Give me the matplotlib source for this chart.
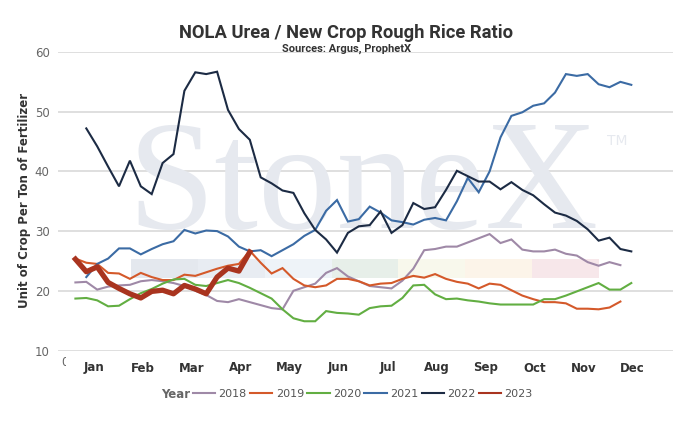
import numpy as np
import matplotlib
matplotlib.use("Agg")
import matplotlib.pyplot as plt
from matplotlib.patches import Rectangle
from matplotlib.transforms import blended_transform_factory

# ---------------- data ----------------
years = ["2018", "2019", "2020", "2021", "2022", "2023"]
start_week = {"2018": 1, "2019": 1, "2020": 1, "2021": 2, "2022": 2, "2023": 1}

v2018 = [21.4, 21.5, 20.2, 20.7, 20.9, 21.0, 21.6, 21.8, 21.6, 21.3, 20.8, 20.0, 19.3,
         18.3, 18.1, 18.6, 18.1, 17.6, 17.1, 16.9, 20.0, 20.6, 21.2, 23.0, 23.8, 22.4,
         21.6, 20.8, 20.6, 20.4, 21.7, 23.7, 26.8, 27.0, 27.4, 27.4, 28.1, 28.8, 29.5,
         28.0, 28.6, 26.9, 26.6, 26.6, 26.9, 26.2, 25.9, 24.8, 24.2, 24.8, 24.3]
v2019 = [25.4, 24.7, 24.5, 23.0, 22.9, 22.0, 23.0, 22.3, 21.8, 21.8, 22.7, 22.5, 23.1,
         23.7, 24.2, 24.5, 26.7, 24.7, 22.9, 23.8, 22.0, 20.9, 20.6, 20.9, 22.0, 22.0,
         21.6, 20.9, 21.2, 21.3, 22.0, 22.5, 22.2, 22.8, 22.0, 21.5, 21.2, 20.4, 21.2,
         21.0, 20.1, 19.2, 18.6, 18.1, 18.1, 17.9, 17.0, 17.0, 16.9, 17.2, 18.2]
v2020 = [18.7, 18.8, 18.4, 17.4, 17.5, 18.6, 19.6, 20.3, 21.2, 21.9, 22.0, 21.0, 20.8,
         21.3, 21.8, 21.3, 20.5, 19.6, 18.7, 16.9, 15.4, 14.9, 14.9, 16.6, 16.3, 16.2,
         16.0, 17.1, 17.4, 17.5, 18.8, 20.9, 21.0, 19.4, 18.6, 18.7, 18.4, 18.2, 17.9,
         17.7, 17.7, 17.7, 17.7, 18.6, 18.6, 19.2, 19.9, 20.6, 21.3, 20.2, 20.2, 21.3]
v2021 = [22.3, 24.5, 25.4, 27.1, 27.1, 26.1, 27.0, 27.8, 28.3, 30.2, 29.6, 30.1, 30.0,
         29.1, 27.4, 26.6, 26.8, 25.8, 26.8, 27.8, 29.2, 30.2, 33.4, 35.2, 31.6, 32.0,
         34.1, 33.1, 31.8, 31.5, 31.1, 31.9, 32.2, 31.8, 35.0, 38.9, 36.5, 40.0, 45.7,
         49.3, 49.9, 51.0, 51.4, 53.2, 56.3, 56.0, 56.3, 54.6, 54.1, 55.0, 54.5]
v2022 = [47.2, 44.2, 40.8, 37.5, 41.8, 37.5, 36.2, 41.4, 42.9, 53.5, 56.6, 56.3, 56.7,
         50.3, 47.1, 45.3, 39.0, 38.0, 36.8, 36.4, 33.0, 30.2, 28.6, 26.4, 29.7, 30.8,
         31.0, 33.3, 29.7, 31.0, 34.7, 33.7, 34.0, 36.9, 40.1, 39.2, 38.3, 38.3, 37.0,
         38.2, 36.9, 36.0, 34.5, 33.1, 32.6, 31.7, 30.3, 28.4, 28.9, 27.0, 26.6]
v2023 = [25.3, 23.2, 24.0, 21.4, 20.4, 19.5, 18.8, 19.9, 20.1, 19.5, 20.9, 20.3, 19.5,
         22.3, 23.8, 23.3, 26.5]
values = {"2018": v2018, "2019": v2019, "2020": v2020,
          "2021": v2021, "2022": v2022, "2023": v2023}

months = ["Jan", "Feb", "Mar", "Apr", "May", "Jun",
          "Jul", "Aug", "Sep", "Oct", "Nov", "Dec"]
week_ticks = [0, 10, 20, 30, 40, 50]
y_ticks = [10, 20, 30, 40, 50, 60]

title = "NOLA Urea / New Crop Rough Rice Ratio"
subtitle = "Sources: Argus, ProphetX"
ylabel = "Unit of Crop Per Ton of Fertilizer"

# ---------------- style ----------------
colors = {"2018": "#9f89a7", "2019": "#d4592a", "2020": "#62ae42",
          "2021": "#3b6ba4", "2022": "#1c2b44", "2023": "#a9341f"}
widths = {"2018": 1.5, "2019": 1.5, "2020": 1.5, "2021": 1.5, "2022": 1.5, "2023": 3.8}

W, H = 695, 429
fig = plt.figure(figsize=(W / 100, H / 100), dpi=100)
ax_l, ax_r, ax_t, ax_b = 58, 673, 52, 350.5
ax = fig.add_axes([ax_l / W, 1 - ax_b / H, (ax_r - ax_l) / W, (ax_b - ax_t) / H])

x0px, pxw = 64.5, 10.9
ax.set_xlim((ax_l - x0px) / pxw, (ax_r - x0px) / pxw)
ax.set_ylim(10, 60)

for s in ax.spines.values():
    s.set_visible(False)
ax.set_yticks(y_ticks)
ax.set_yticklabels([str(t) for t in y_ticks])
ax.set_xticks(week_ticks)
ax.set_xticklabels([str(t) for t in week_ticks])
ax.tick_params(axis="both", length=0, colors="#666666", labelsize=8.5)
ax.tick_params(axis="y", pad=6)
ax.tick_params(axis="x", pad=4)
ax.grid(axis="y", color="#d9d9d9", linewidth=1.2)
ax.grid(axis="x", visible=False)
ax.set_axisbelow(True)

# watermark (axes fraction coordinates)
def axf(px, py):
    return ((px - ax_l) / (ax_r - ax_l), (ax_b - py) / (ax_b - ax_t))

band_cols = ["#e4e8ee", "#e8ecf2", "#eef3f8", "#e7efe9", "#f8f8ec", "#fcf4e9", "#f7e7ea"]
bx0, bx1, by0, by1 = 131, 599, 259, 278
segw = (bx1 - bx0) / len(band_cols)
for i, c in enumerate(band_cols):
    xa, ya = axf(bx0 + i * segw, by1)
    xb, yb = axf(bx0 + (i + 1) * segw, by0)
    ax.add_patch(Rectangle((xa, ya), xb - xa, yb - ya, transform=ax.transAxes,
                           facecolor=c, edgecolor="none", zorder=0.5))
wx, wy = axf(128, 228)
ax.text(wx, wy, "StoneX", transform=ax.transAxes, family="Liberation Serif",
        fontsize=113, color="#e6e9ef", ha="left", va="baseline", zorder=0.6)
tx, ty = axf(607, 134)
ax.text(tx, ty, "TM", transform=ax.transAxes, family="DejaVu Sans",
        fontsize=10, color="#e6e9ef", ha="left", va="top", zorder=0.6)

# series
for y in years:
    vals = values[y]
    wk = np.arange(start_week[y], start_week[y] + len(vals))
    ax.plot(wk, vals, color=colors[y], linewidth=widths[y], label=y,
            solid_joinstyle="miter" if y != "2023" else "round",
            zorder=3 if y != "2023" else 4)

# cover the numeric week labels (as in reference)
fig.patches.append(Rectangle((66 / W, 1 - 385 / H), (W - 66) / W, (385 - 356.5) / H,
                             transform=fig.transFigure, facecolor="white",
                             edgecolor="none", zorder=5))
# month labels
trans = blended_transform_factory(ax.transData, fig.transFigure)
m_first, m_step = 2.69, 4.49
for i, m in enumerate(months):
    fig.text(m_first + i * m_step, 1 - 368 / H, m, transform=trans, ha="center",
             va="center", fontsize=8.5, fontweight="bold", color="#333333", zorder=6)

# titles
fig.text(346 / W, 1 - 33 / H, title, ha="center", va="center", family="Roboto",
         fontsize=13.2, fontweight="bold", color="#333333")
fig.text(347 / W, 1 - 49 / H, subtitle, ha="center", va="center", family="Roboto",
         fontsize=8, fontweight="bold", color="#333333")
fig.text(25 / W, 1 - 200 / H, ylabel, rotation=90, ha="center", va="center",
         fontsize=8.5, fontweight="bold", color="#333333")

# legend
fig.text(176 / W, 1 - 394 / H, "Year", ha="center", va="center", fontsize=8.5,
         fontweight="bold", color="#666666")
handles, labels = ax.get_legend_handles_labels()
leg = fig.legend(handles, labels, loc="center left", bbox_to_anchor=(193 / W, 1 - 394 / H),
                 ncol=6, frameon=False, fontsize=8, handlelength=2.0,
                 handletextpad=0.3, columnspacing=0.3, borderaxespad=0, borderpad=0)
for t in leg.get_texts():
    t.set_color("#555555")
for l in leg.get_lines():
    l.set_linewidth(1.5)

fig.savefig("out.png", dpi=100)
